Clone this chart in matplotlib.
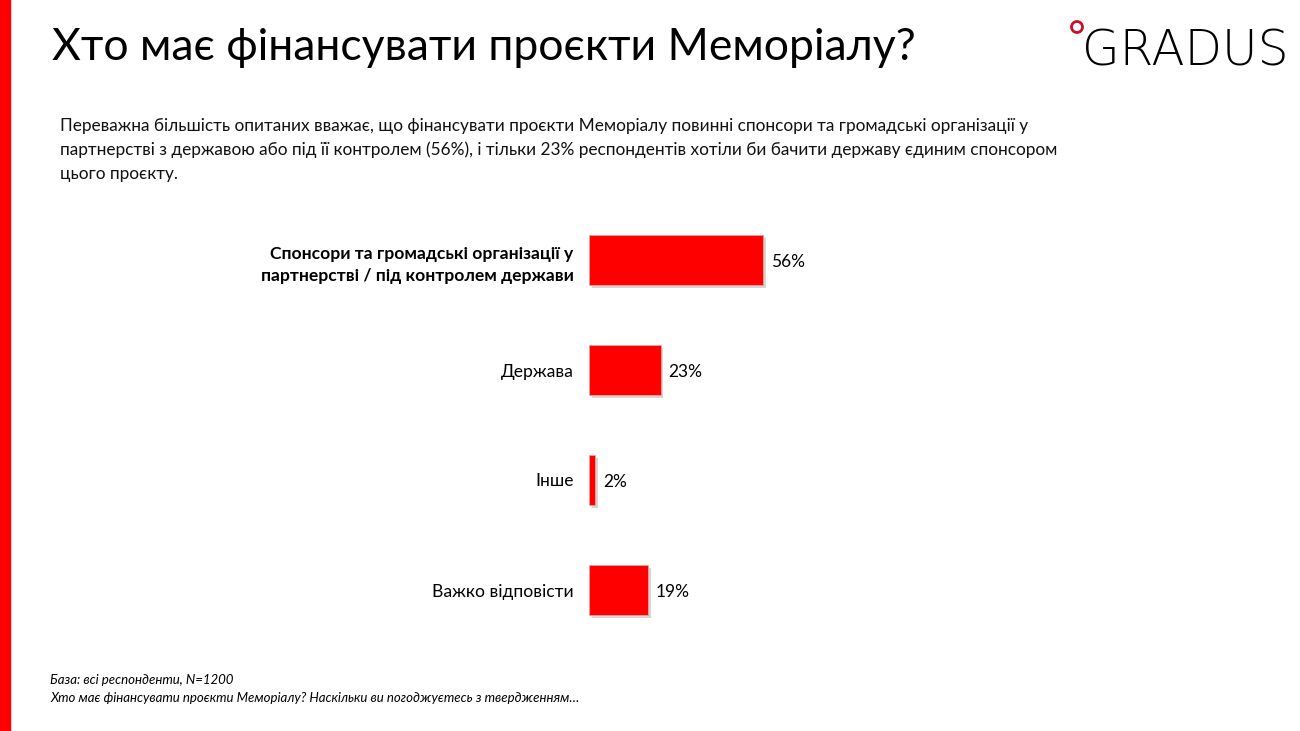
import matplotlib
matplotlib.use("Agg")
import matplotlib.pyplot as plt
import matplotlib.patches as mpatches
import matplotlib.patheffects as pe

categories = ["Спонсори та громадські організації у\nпартнерстві / під контролем держави",
              "Держава", "Інше", "Важко відповісти"]
values = [56, 23, 2, 19]
value_labels = ["56%", "23%", "2%", "19%"]

title = "Хто має фінансувати проєкти Меморіалу?"
subtitle = ("Переважна більшість опитаних вважає, що фінансувати проєкти Меморіалу повинні спонсори та громадські організації у\n"
            "партнерстві з державою або під її контролем (56%), і тільки 23% респондентів хотіли би бачити державу єдиним спонсором\n"
            "цього проєкту.")
foot1 = "База: всі респонденти, N=1200"
foot2 = "Хто має фінансувати проєкти Меморіалу? Наскільки ви погоджуєтесь з твердженням…"

plt.rcParams['font.family'] = ['Lato', 'DejaVu Sans']
W, H = 1300, 731
fig = plt.figure(figsize=(13, 7.31), dpi=100)

# red stripe on left
fig.patches.append(mpatches.Rectangle((0, 0), 10 / W, 1, transform=fig.transFigure,
                                      color="#ff0000", zorder=0))

fig.text(52 / W, 1 - 47 / H, title, fontsize=32, va="center", ha="left", color="black")
fig.text(60 / W, 1 - 150 / H, subtitle, fontsize=12.4, va="center", ha="left",
         color="#111111", linespacing=1.55)
fig.text(50 / W, 1 - 680 / H, foot1, fontsize=9.5, style="italic", va="center", ha="left")
fig.text(50 / W, 1 - 698 / H, foot2, fontsize=9.5, style="italic", va="center", ha="left")

# logo
fig.text(1082 / W, 1 - 52 / H, "GRADUS", fontsize=35, family="DejaVu Sans",
         fontweight="light", va="center", ha="left", color="black")
fig.patches.append(mpatches.Ellipse((1077 / W, 1 - 27 / H), 11 / W, 11 / H,
                                    transform=fig.transFigure, fill=False,
                                    edgecolor="#c8102e", linewidth=2))

ax = fig.add_axes([589 / W, 1 - 645 / H, 311 / W, 440 / H])
ypos = list(range(len(categories)))
bars = ax.barh(ypos, values, height=0.455, color="#ff0000", edgecolor="#e8a0a0",
               linewidth=0.6)
for b in bars:
    b.set_path_effects([pe.SimplePatchShadow(offset=(2, -2), shadow_rgbFace="#999999",
                                             alpha=0.4), pe.Normal()])
for y, v, lab in zip(ypos, values, value_labels):
    ax.text(v + 2.5, y + 0.02, lab, va="center", ha="left", fontsize=12.5)

ax.set_xlim(0, 100)
ax.set_ylim(len(categories) - 0.5, -0.5)
ax.set_yticks(ypos)
ax.set_yticklabels(categories, fontsize=12.6, linespacing=1.5)
ax.get_yticklabels()[0].set_fontweight("bold")
ax.tick_params(axis="y", length=0, pad=11)
ax.set_xticks([])
for s in ax.spines.values():
    s.set_visible(False)

fig.savefig("out.png", dpi=100)
